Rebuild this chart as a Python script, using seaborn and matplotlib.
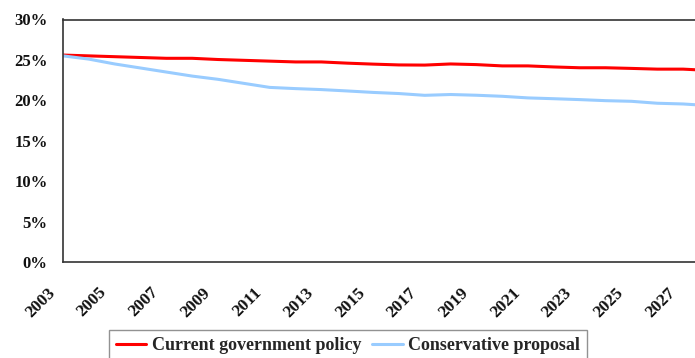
import pandas as pd
import matplotlib
matplotlib.use('Agg')
import matplotlib.pyplot as plt
import matplotlib.transforms as mtransforms
import seaborn as sns
from matplotlib.ticker import FuncFormatter

# Tax share of GDP (percent)
years = list(range(2003, 2029))
current_policy = [25.6, 25.5, 25.4, 25.3, 25.2, 25.2, 25.05, 24.95, 24.85, 24.75,
                  24.75, 24.6, 24.48, 24.38, 24.36, 24.5, 24.42, 24.26, 24.26, 24.13,
                  24.03, 24.03, 23.95, 23.86, 23.86, 23.7]
conservative = [25.5, 25.1, 24.5, 24.0, 23.5, 23.0, 22.6, 22.1, 21.6, 21.45,
                21.33, 21.16, 20.98, 20.84, 20.62, 20.72, 20.63, 20.5, 20.3, 20.2,
                20.09, 19.96, 19.88, 19.64, 19.55, 19.35]
series_names = ['Current government policy', 'Conservative proposal']
series_colors = ['#FF0000', '#99CCFF']

df = pd.DataFrame({
    'year': years * 2,
    'value': current_policy + conservative,
    'series': [series_names[0]] * len(years) + [series_names[1]] * len(years),
})

sns.set_style('white')
plt.rcParams['font.family'] = ['Liberation Serif', 'DejaVu Serif']
plt.rcParams['font.weight'] = 'bold'

fig = plt.figure(figsize=(6.95, 3.58), dpi=100)
ax = fig.add_axes([63 / 695, 1 - 262 / 358, 1 - 63 / 695 + 0.02, (262 - 19.5) / 358])

sns.lineplot(data=df, x='year', y='value', hue='series', hue_order=series_names,
             palette=series_colors, linewidth=2.2, ax=ax, legend=False)

ax.set_xlim(2003, 2003 + 632 / 25.58)
ax.set_ylim(0, 30)
ax.set_yticks(range(0, 31, 5))
ax.yaxis.set_major_formatter(FuncFormatter(lambda v, p: f'{int(v)}%'))
ax.set_xticks(years)
ax.set_xticklabels([str(y) if (y - 2003) % 2 == 0 else '' for y in years])
ax.set_xlabel('')
ax.set_ylabel('')

for s in ax.spines.values():
    s.set_color('#333333')
    s.set_linewidth(1.2)

ax.tick_params(axis='both', direction='out', length=5, width=1, color='#333333',
               labelsize=12.5, labelcolor='#111111')
ax.tick_params(axis='y', pad=6)
ax.tick_params(axis='x', pad=4)
# shift rotated year labels down-left like the original
offset = mtransforms.ScaledTranslation(-0.16, -0.10, fig.dpi_scale_trans)
for lbl in ax.get_xticklabels():
    lbl.set_rotation(45)
    lbl.set_ha('right')
    lbl.set_va('top')
    lbl.set_rotation_mode('anchor')
    lbl.set_fontweight('bold')
    lbl.set_transform(lbl.get_transform() + offset)
for lbl in ax.get_yticklabels():
    lbl.set_fontweight('bold')
    lbl.set_fontsize(12)

handles = [plt.Line2D([], [], color=c, linewidth=2.2) for c in series_colors]
leg = fig.legend(handles, series_names, loc='upper center',
                 bbox_to_anchor=(348 / 695, 1 - 330 / 358),
                 bbox_transform=fig.transFigure, ncol=2, frameon=True,
                 fancybox=False, borderaxespad=0, handlelength=1.7,
                 handletextpad=0.3, columnspacing=0.6, borderpad=0.4,
                 prop={'family': ['Liberation Serif', 'DejaVu Serif'],
                       'weight': 'bold', 'size': 13})
leg.get_frame().set_edgecolor('#777777')
leg.get_frame().set_linewidth(1.0)

fig.savefig('out.png', dpi=100, facecolor='white')
